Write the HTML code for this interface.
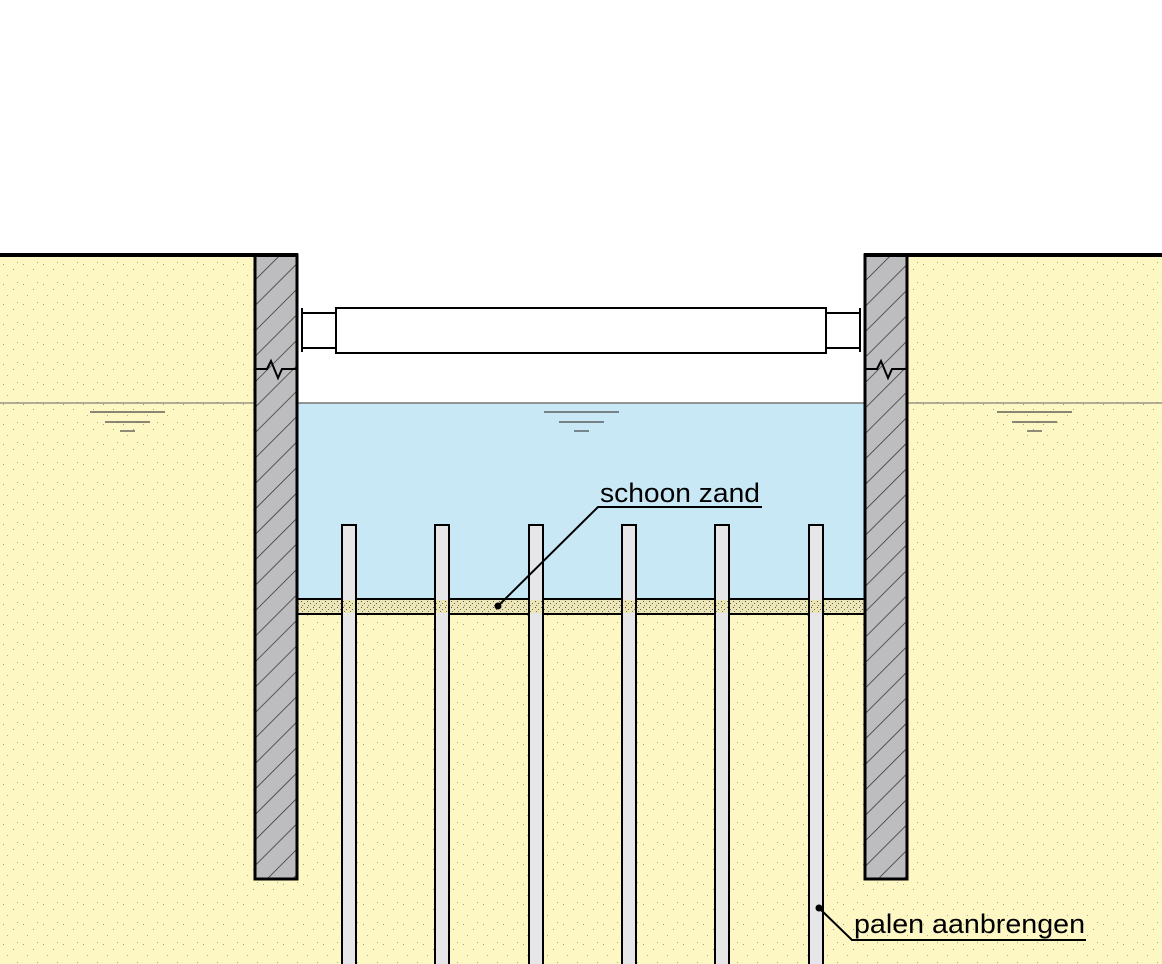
<!DOCTYPE html>
<html><head><meta charset="utf-8"><style>
html,body{margin:0;padding:0;background:#fff}
svg{display:block}
text{font-family:"Liberation Sans",sans-serif;font-size:27px;fill:#000}
</style></head><body>
<svg width="1162" height="964" viewBox="0 0 1162 964" xmlns="http://www.w3.org/2000/svg">
<defs>
<pattern id="sand" width="20" height="20" patternUnits="userSpaceOnUse">
<rect width="20" height="20" fill="#fdf7c4"/>
<rect x="3" y="4" width="1" height="1" fill="#a09a70"/><rect x="13" y="9" width="1" height="1" fill="#a09a70"/>
<rect x="7" y="15" width="1" height="1" fill="#b0aa80"/><rect x="17" y="2" width="1" height="1" fill="#b0aa80"/>
</pattern>
<pattern id="sand2" width="6" height="6" patternUnits="userSpaceOnUse">
<rect width="6" height="6" fill="#ece5b5"/>
<rect x="1" y="1" width="1" height="1" fill="#555"/><rect x="4" y="3" width="1" height="1" fill="#666"/>
<rect x="2" y="5" width="1" height="1" fill="#777"/>
</pattern>
<pattern id="hatch" width="18" height="18" patternUnits="userSpaceOnUse" patternTransform="rotate(45)">
<rect width="18" height="18" fill="#bdbdc0"/>
<line x1="0" y1="0" x2="0" y2="18" stroke="#333" stroke-width="1.5"/>
</pattern>
</defs>
<rect x="0" y="254" width="1162" height="710" fill="url(#sand)"/>
<rect x="298" y="254" width="566" height="149" fill="#fff"/>
<rect x="298" y="403" width="566" height="196" fill="#c8e8f6"/>
<rect x="298" y="599" width="566" height="15" fill="url(#sand2)"/>
<line x1="298" y1="599" x2="864" y2="599" stroke="#000" stroke-width="2"/>
<line x1="298" y1="614" x2="864" y2="614" stroke="#000" stroke-width="2"/>
<line x1="298" y1="403" x2="864" y2="403" stroke="#777" stroke-width="1.5"/>
<line x1="0" y1="403" x2="254" y2="403" stroke="#666" stroke-width="1"/>
<line x1="908" y1="403" x2="1162" y2="403" stroke="#666" stroke-width="1"/>
<g stroke="#444" stroke-width="1.2">
<line x1="90" y1="412" x2="165" y2="412"/><line x1="105" y1="422" x2="150" y2="422"/><line x1="120" y1="431" x2="135" y2="431"/>
<line x1="544" y1="412" x2="619" y2="412"/><line x1="559" y1="422" x2="604" y2="422"/><line x1="574" y1="431" x2="589" y2="431"/>
<line x1="997" y1="412" x2="1072" y2="412"/><line x1="1012" y1="422" x2="1057" y2="422"/><line x1="1027" y1="431" x2="1042" y2="431"/>
</g>
<g fill="#e6e6e8" stroke="#000" stroke-width="2">
<rect x="342" y="525" width="14" height="450"/><rect x="435" y="525" width="14" height="450"/>
<rect x="529" y="525" width="14" height="450"/><rect x="622" y="525" width="14" height="450"/>
<rect x="715" y="525" width="14" height="450"/><rect x="809" y="525" width="14" height="450"/>
</g>
<g fill="url(#sand2)">
<rect x="343" y="600" width="12" height="13"/><rect x="436" y="600" width="12" height="13"/>
<rect x="530" y="600" width="12" height="13"/><rect x="623" y="600" width="12" height="13"/>
<rect x="716" y="600" width="12" height="13"/><rect x="810" y="600" width="12" height="13"/>
</g>
<rect x="255" y="255" width="42" height="624" fill="url(#hatch)" stroke="#000" stroke-width="3"/>
<rect x="865" y="255" width="42" height="624" fill="url(#hatch)" stroke="#000" stroke-width="3"/>
<path d="M255 369 H267 L271 361 L278 378 L282 369 H297" fill="none" stroke="#000" stroke-width="2"/>
<path d="M865 369 H877 L881 361 L888 378 L892 369 H907" fill="none" stroke="#000" stroke-width="2"/>
<line x1="0" y1="255" x2="298" y2="255" stroke="#000" stroke-width="4"/>
<line x1="864" y1="255" x2="1162" y2="255" stroke="#000" stroke-width="4"/>
<rect x="336" y="308" width="490" height="45" fill="#fff" stroke="#000" stroke-width="2"/>
<g stroke="#000" stroke-width="2">
<line x1="302" y1="313" x2="336" y2="313"/><line x1="302" y1="348" x2="336" y2="348"/>
<line x1="302" y1="308" x2="302" y2="352"/>
<line x1="826" y1="313" x2="860" y2="313"/><line x1="826" y1="348" x2="860" y2="348"/>
<line x1="860" y1="308" x2="860" y2="352"/>
</g>
<polyline points="498,606 598,507 762,507" fill="none" stroke="#000" stroke-width="2"/>
<circle cx="498" cy="606" r="3.5" fill="#000"/>
<text x="600" y="502" textLength="160" lengthAdjust="spacingAndGlyphs">schoon zand</text>
<polyline points="819,908 852,940 1086,940" fill="none" stroke="#000" stroke-width="2"/>
<circle cx="819" cy="908" r="3.5" fill="#000"/>
<text x="854" y="933" textLength="231" lengthAdjust="spacingAndGlyphs">palen aanbrengen</text>
</svg>
</body></html>
